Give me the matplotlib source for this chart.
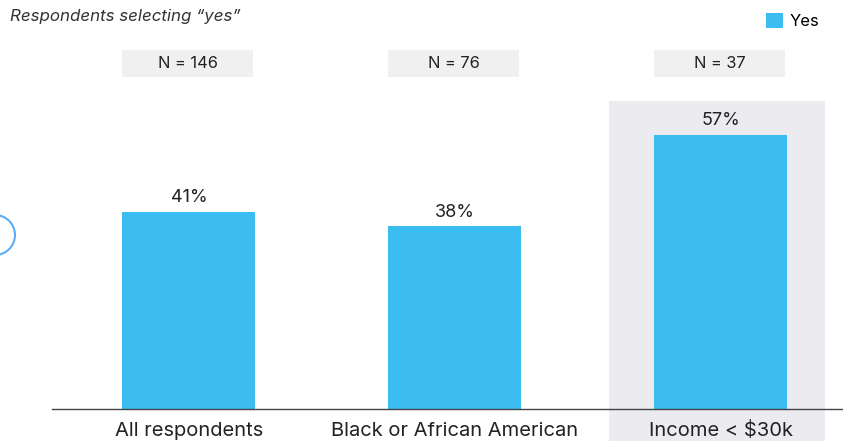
import matplotlib
matplotlib.use("Agg")
import matplotlib.pyplot as plt
from matplotlib.patches import Rectangle, Circle

# data
categories = ["All respondents", "Black or African American", "Income < $30k"]
yes_pct = [41, 38, 57]
n_sizes = [146, 76, 37]

plt.rcParams['font.family'] = ['Inter', 'DejaVu Sans']

BAR_COLOR = '#3BBDF2'
TEXT_COLOR = '#222222'

fig = plt.figure(figsize=(8.43, 4.41), dpi=100)
W, H = 843, 441
# axes: baseline at pixel 409, left at 52
ax = fig.add_axes([52 / W, (H - 409) / H, (W - 52) / W, 409 / H])
ax.set_xlim(-0.515, 2.459)
ax.set_ylim(0, 85)

x = list(range(len(categories)))
bars = ax.bar(x, yes_pct, width=0.5, color=BAR_COLOR, zorder=3, label='Yes')

# highlight behind last group
ax.add_patch(Rectangle((1.579, -7), 0.812, 71, facecolor='#EBEBF0',
                       edgecolor='none', clip_on=False, zorder=0))

# value labels
for xi, v in zip(x, yes_pct):
    ax.annotate(f"{v}%", (xi, v), xytext=(0, 4), textcoords='offset points',
                ha='center', va='bottom', fontsize=13, color=TEXT_COLOR, zorder=4)

# N boxes
for xi, n in zip(x, n_sizes):
    ax.add_patch(Rectangle((xi - 0.25, 69.0), 0.49, 5.6, facecolor='#F0F0F0',
                           edgecolor='none', clip_on=False, zorder=1))
    ax.text(xi - 0.005, 71.8, f"N = {n}", ha='center', va='center', fontsize=11.8,
            color=TEXT_COLOR, zorder=2)

for s in ['top', 'right', 'left']:
    ax.spines[s].set_visible(False)
ax.spines['bottom'].set_color('#444444')
ax.spines['bottom'].set_linewidth(1.0)
ax.spines['bottom'].set_zorder(5)
ax.set_yticks([])
ax.set_xticks(x)
ax.set_xticklabels(categories, fontsize=14.5, color=TEXT_COLOR)
ax.tick_params(axis='x', length=0, pad=9)
ax.patch.set_visible(False)

fig.text(10 / W, 1 - 17 / H, "Respondents selecting \u201cyes\u201d", style='italic',
         fontsize=12.2, color='#333333', ha='left', va='center')

ax.legend(loc='upper right', bbox_to_anchor=(831 / W, 1 - 1 / H),
          bbox_transform=fig.transFigure, frameon=False, fontsize=12,
          handlelength=1.0, handleheight=1.0, handletextpad=0.4, borderpad=0.2)

# partial circle at left edge
fig.add_artist(Circle((-0.05, (H - 235) / 100), 0.2, transform=fig.dpi_scale_trans,
                      facecolor='none', edgecolor='#5AAEF5', lw=1.5))

fig.savefig("out.png", dpi=100)
